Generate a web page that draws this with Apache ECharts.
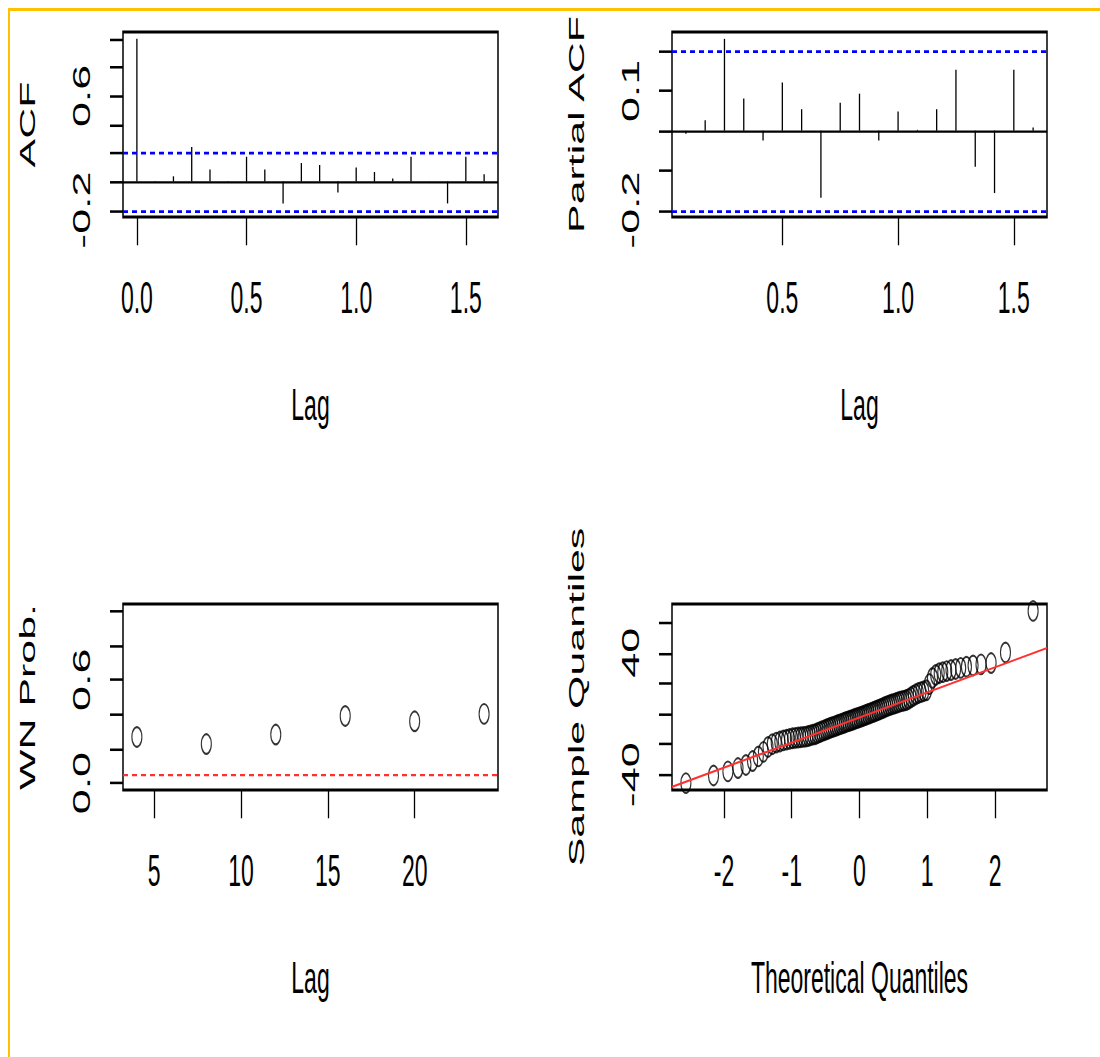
<!DOCTYPE html>
<html>
<head>
<meta charset="utf-8">
<title>Residual diagnostics</title>
<script src="https://cdn.jsdelivr.net/npm/echarts@6.0.0/dist/echarts.min.js"></script>
<style>
  html, body { margin: 0; padding: 0; background: #fff; }
  #wrap { position: relative; width: 1100px; height: 1057px; overflow: hidden; background: #fff; }
  #chart { position: absolute; left: 0; top: 0; width: 1100px; transform-origin: 0 0; }
  #frame { position: absolute; left: 8px; top: 8px; right: 0; bottom: 0;
           border-top: 3px solid #ffc000; border-left: 2px solid #ffc000; pointer-events: none; }
</style>
</head>
<body>
<div id="wrap">
  <div id="chart"></div>
  <div id="frame"></div>
</div>
<script>
// the reference screenshot is stretched vertically, so the chart is drawn
// flat and scaled up by S afterwards
const S = 1.95;
const FONT = "'Liberation Sans', Arial, sans-serif";

const nObs = 96;
const freq = 12;
const clim = 1.96 / Math.sqrt(nObs);

// ACF of the residuals, lag in months
const acfLagIndex = [0, 1, 2, 3, 4, 5, 6, 7, 8, 9, 10, 11, 12, 13, 14, 15, 16, 17, 18, 19];
const acfValues = [1.000, 0.004, 0.037, 0.242, 0.084, -0.004, 0.174, 0.084, -0.153, 0.130,
                   0.116, -0.077, 0.098, 0.067, 0.021, 0.174, 0.002, -0.153, 0.174, 0.051];

// partial ACF
const pacfLagIndex = [1, 2, 3, 4, 5, 6, 7, 8, 9, 10, 11, 12, 13, 14, 15, 16, 17, 18, 19];
const pacfValues = [-0.008, 0.026, 0.231, 0.081, -0.025, 0.121, 0.054, -0.169, 0.070, 0.093,
                    -0.025, 0.048, 0.002, 0.054, 0.153, -0.091, -0.157, 0.153, 0.008];

// white noise test p-values
const wnLags = [4, 8, 12, 16, 20, 24];
const wnProb = [0.268, 0.227, 0.282, 0.390, 0.359, 0.402];
const wnLevel = 0.05;

// normal QQ plot
const qqTheoretical = [
  -2.562, -2.154, -1.942, -1.793, -1.676, -1.578, -1.493, -1.418, -1.350, -1.287, -1.229, -1.176,
  -1.125, -1.077, -1.032, -0.988, -0.947, -0.907, -0.868, -0.831, -0.794, -0.759, -0.725, -0.691,
  -0.658, -0.626, -0.594, -0.564, -0.533, -0.503, -0.474, -0.445, -0.417, -0.389, -0.361, -0.333,
  -0.306, -0.279, -0.252, -0.225, -0.198, -0.171, -0.144, -0.118, -0.092, -0.065, -0.039, -0.013,
  0.013, 0.039, 0.065, 0.092, 0.118, 0.144, 0.171, 0.198, 0.225, 0.252, 0.279, 0.306,
  0.333, 0.361, 0.389, 0.417, 0.445, 0.474, 0.503, 0.533, 0.564, 0.594, 0.626, 0.658,
  0.691, 0.725, 0.759, 0.794, 0.831, 0.868, 0.907, 0.947, 0.988, 1.032, 1.077, 1.125,
  1.176, 1.229, 1.287, 1.350, 1.418, 1.493, 1.578, 1.676, 1.793, 1.942, 2.154, 2.562
];
const qqSample = [
  -45.5, -40.5, -37.8, -35.6, -33.6, -31.0, -28.0, -25.0, -21.8, -20.0, -18.9, -18.2,
  -17.5, -17.0, -16.5, -16.1, -15.8, -15.6, -15.4, -15.2, -15.0, -14.6, -14.2, -13.7,
  -13.45, -12.8, -12.2, -11.6, -11.1, -10.5, -10.0, -9.5, -9.0, -8.6, -8.1, -7.7,
  -7.2, -6.8, -6.3, -5.9, -5.4, -5.0, -4.6, -4.2, -3.8, -3.3, -2.9, -2.5,
  -2.1, -1.7, -1.2, -0.8, -0.3, 0.1, 0.6, 1.1, 1.5, 2.0, 2.5, 3.0,
  3.5, 4.1, 4.7, 5.2, 5.7, 6.1, 6.5, 6.9, 7.4, 7.9, 8.3, 8.6,
  9.0, 9.8, 10.8, 11.8, 12.8, 13.6, 14.2, 14.8, 15.4, 19.5, 23.5, 25.5,
  26.6, 27.3, 28.0, 28.7, 29.4, 30.1, 30.9, 31.7, 32.4, 33.3, 40.2, 67.5
];

// ticks, and the ticks that carry a label
const acfXTicks = [0, 0.5, 1, 1.5];
const acfYTicks = [-0.2, 0, 0.2, 0.4, 0.6, 0.8, 1.0];
const acfYLabels = [-0.2, 0.6];
const pacfXTicks = [0.5, 1, 1.5];
const pacfYTicks = [-0.2, -0.1, 0, 0.1, 0.2];
const pacfYLabels = [-0.2, 0.1];
const wnXTicks = [5, 10, 15, 20];
const wnYTicks = [0, 0.2, 0.4, 0.6, 0.8, 1.0];
const wnYLabels = [0, 0.6];
const qqXTicks = [-2, -1, 0, 1, 2];
const qqYTicks = [-40, -20, 0, 20, 40, 60];
const qqYLabels = [-40, 40];

// R pads every axis range by 4%
function rRange(vals) {
    const lo = Math.min.apply(null, vals);
    const hi = Math.max.apply(null, vals);
    const pad = 0.04 * (hi - lo);
    return [lo - pad, hi + pad];
}

// type 7 quantile, as used by qqline
function quantile7(sorted, p) {
    const h = (sorted.length - 1) * p;
    const lo = Math.floor(h);
    const hi = Math.min(lo + 1, sorted.length - 1);
    return sorted[lo] + (h - lo) * (sorted[hi] - sorted[lo]);
}

const acfLags = acfLagIndex.map(k => k / freq);
const pacfLags = pacfLagIndex.map(k => k / freq);

const acfXRange = rRange(acfLags);
const acfYRange = rRange(acfValues.concat([clim, -clim]));
const pacfXRange = rRange(pacfLags);
const pacfYRange = rRange(pacfValues.concat([clim, -clim]));
const wnXRange = rRange(wnLags);
const wnYRange = rRange([0, 1]);
const qqXRange = rRange(qqTheoretical);
const qqYRange = rRange(qqSample);

const z25 = 0.6744897502;
const q1 = quantile7(qqSample, 0.25);
const q3 = quantile7(qqSample, 0.75);
const qqSlope = (q3 - q1) / (2 * z25);
const qqIntercept = (q1 + q3) / 2;
const qqLine = qqXRange.map(x => [x, qqIntercept + qqSlope * x]);

const chartEl = document.getElementById('chart');
chartEl.style.height = (1057 / S) + 'px';
chartEl.style.transform = 'scaleY(' + S + ')';
const myChart = echarts.init(chartEl, null, { renderer: 'svg' });

const fmt1 = v => v.toFixed(1);
const fmt0 = v => String(Math.round(v));

function valueAxis(gridIndex, range, ticks, labels, fmt, name, isY) {
    return {
        type: 'value',
        gridIndex: gridIndex,
        min: range[0],
        max: range[1],
        name: name,
        nameLocation: 'middle',
        nameGap: isY ? 85 : 85,
        nameMoveOverlap: false,
        nameTextStyle: { fontFamily: FONT, fontSize: isY ? 22 : 23, color: '#000' },
        axisLine: { show: false, onZero: false },
        splitLine: { show: false },
        axisTick: {
            show: true,
            inside: false,
            length: isY ? 13 : 14.5,
            customValues: ticks,
            lineStyle: { color: '#000', width: 1.3 }
        },
        axisLabel: {
            show: true,
            customValues: labels,
            formatter: fmt,
            rotate: isY ? 90 : 0,
            margin: isY ? 29 : 30,
            fontFamily: FONT,
            fontSize: 23,
            color: '#000'
        }
    };
}

function spikeItem(params, api) {
    const base = api.coord([api.value(0), 0]);
    const tip = api.coord([api.value(0), api.value(1)]);
    return {
        type: 'line',
        shape: { x1: base[0], y1: base[1], x2: tip[0], y2: tip[1] },
        style: { stroke: '#000', lineWidth: 1.3 }
    };
}

function refLines(lines) {
    return {
        silent: true,
        symbol: 'none',
        label: { show: false },
        animation: false,
        data: lines.map(l => ({
            yAxis: l.value,
            lineStyle: { color: l.color, width: l.width, type: l.type }
        }))
    };
}

const gridBase = { show: true, borderColor: '#000', borderWidth: 1.5, backgroundColor: 'transparent', outerBoundsMode: 'none' };

const option = {
    backgroundColor: '#fff',
    animation: false,
    grid: [
        Object.assign({ left: 123, top: 32 / S, width: 375, height: 185 / S }, gridBase),
        Object.assign({ left: 672, top: 32 / S, width: 375, height: 185 / S }, gridBase),
        Object.assign({ left: 123, top: 604 / S, width: 375, height: 186 / S }, gridBase),
        Object.assign({ left: 672, top: 604 / S, width: 375, height: 186 / S }, gridBase)
    ],
    xAxis: [
        valueAxis(0, acfXRange, acfXTicks, acfXTicks, fmt1, 'Lag', false),
        valueAxis(1, pacfXRange, pacfXTicks, pacfXTicks, fmt1, 'Lag', false),
        valueAxis(2, wnXRange, wnXTicks, wnXTicks, fmt0, 'Lag', false),
        valueAxis(3, qqXRange, qqXTicks, qqXTicks, fmt0, 'Theoretical Quantiles', false)
    ],
    yAxis: [
        valueAxis(0, acfYRange, acfYTicks, acfYLabels, fmt1, 'ACF', true),
        valueAxis(1, pacfYRange, pacfYTicks, pacfYLabels, fmt1, 'Partial ACF', true),
        valueAxis(2, wnYRange, wnYTicks, wnYLabels, fmt1, 'WN Prob.', true),
        valueAxis(3, qqYRange, qqYTicks, qqYLabels, fmt0, 'Sample Quantiles', true)
    ],
    series: [
        {
            name: 'ACF',
            type: 'custom',
            xAxisIndex: 0,
            yAxisIndex: 0,
            renderItem: spikeItem,
            encode: { x: 0, y: 1 },
            data: acfLags.map((x, i) => [x, acfValues[i]]),
            markLine: refLines([
                { value: 0, color: '#000', width: 1.2, type: 'solid' },
                { value: clim, color: '#0000ff', width: 1.4, type: [5, 4] },
                { value: -clim, color: '#0000ff', width: 1.4, type: [5, 4] }
            ])
        },
        {
            name: 'Partial ACF',
            type: 'custom',
            xAxisIndex: 1,
            yAxisIndex: 1,
            renderItem: spikeItem,
            encode: { x: 0, y: 1 },
            data: pacfLags.map((x, i) => [x, pacfValues[i]]),
            markLine: refLines([
                { value: 0, color: '#000', width: 1.2, type: 'solid' },
                { value: clim, color: '#0000ff', width: 1.4, type: [5, 4] },
                { value: -clim, color: '#0000ff', width: 1.4, type: [5, 4] }
            ])
        },
        {
            name: 'WN Prob.',
            type: 'scatter',
            xAxisIndex: 2,
            yAxisIndex: 2,
            symbol: 'circle',
            symbolSize: 10,
            itemStyle: { color: 'rgba(0,0,0,0)', borderColor: '#000', borderWidth: 1.1 },
            data: wnLags.map((x, i) => [x, wnProb[i]]),
            markLine: refLines([
                { value: wnLevel, color: '#ff3030', width: 1.2, type: [5, 4] }
            ])
        },
        {
            name: 'Sample Quantiles',
            type: 'scatter',
            xAxisIndex: 3,
            yAxisIndex: 3,
            symbol: 'circle',
            symbolSize: 10,
            itemStyle: { color: 'rgba(0,0,0,0)', borderColor: '#000', borderWidth: 1.1 },
            data: qqTheoretical.map((x, i) => [x, qqSample[i]])
        },
        {
            name: 'qqline',
            type: 'line',
            xAxisIndex: 3,
            yAxisIndex: 3,
            showSymbol: false,
            symbol: 'none',
            lineStyle: { color: '#ff3030', width: 1.1 },
            data: qqLine
        }
    ]
};

myChart.setOption(option);
</script>
</body>
</html>
